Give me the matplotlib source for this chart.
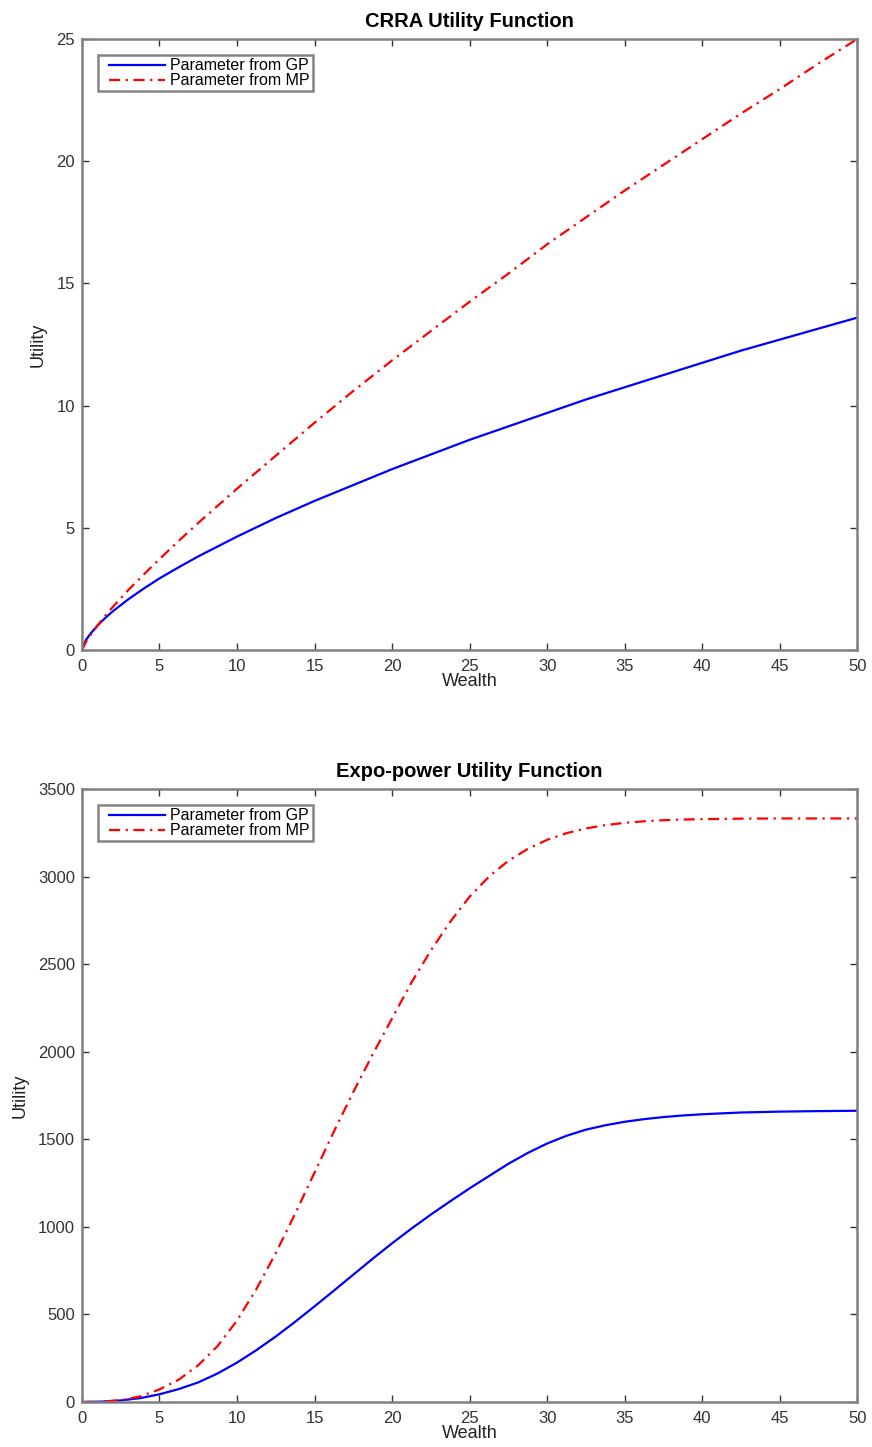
import numpy as np
import matplotlib.pyplot as plt
from matplotlib.lines import Line2D
from matplotlib.legend_handler import HandlerLine2D

plt.rcParams['font.family'] = ['Liberation Sans', 'DejaVu Sans']

# CRRA utility
crra_wealth = [0, 0.25, 0.5, 1, 1.5, 2, 3, 4, 5, 6.25, 7.5, 10, 12.5, 15, 17.5,
               20, 22.5, 25, 27.5, 30, 32.5, 35, 37.5, 40, 42.5, 45, 47.5, 50]
crra_gp = [0, 0.40, 0.63, 1.0, 1.31, 1.59, 2.08, 2.52, 2.93, 3.39, 3.83, 4.64,
           5.4, 6.1, 6.75, 7.4, 8.0, 8.6, 9.15, 9.7, 10.25, 10.75, 11.25,
           11.75, 12.25, 12.7, 13.15, 13.6]
crra_mp = [0, 0.32, 0.57, 1.0, 1.4, 1.77, 2.46, 3.1, 3.72, 4.47, 5.2, 6.6,
           7.95, 9.3, 10.6, 11.85, 13.05, 14.25, 15.4, 16.6, 17.7, 18.8, 19.85,
           20.9, 21.95, 22.95, 24.0, 25.0]

# expo-power utility
expo_wealth = [0, 1.25, 2.5, 3.75, 5, 6.25, 7.5, 8.75, 10, 11.25, 12.5, 13.75,
               15, 16.25, 17.5, 18.75, 20, 21.25, 22.5, 23.75, 25, 26.25, 27.5,
               28.75, 30, 31.25, 32.5, 33.75, 35, 36.25, 37.5, 38.75, 40, 42.5,
               45, 47.5, 50]
expo_gp = [0, 2, 9, 22, 44, 74, 112, 163, 225, 296, 374, 458, 546, 636, 727,
           818, 906, 990, 1070, 1146, 1220, 1290, 1360, 1422, 1476, 1520, 1555,
           1580, 1600, 1615, 1627, 1636, 1643, 1653, 1658, 1661, 1663]
expo_mp = [0, 2, 10, 32, 72, 128, 210, 320, 465, 645, 850, 1075, 1310, 1545,
           1770, 1985, 2190, 2395, 2578, 2742, 2885, 3000, 3090, 3158, 3210,
           3248, 3275, 3294, 3307, 3316, 3322, 3326, 3328, 3331, 3332, 3332, 3332]

labels = ['Parameter from GP', 'Parameter from MP']

fig = plt.figure(figsize=(8.72, 14.47), dpi=100)
ax1 = fig.add_axes([0.094, 0.5508, 0.889, 0.4222])
ax2 = fig.add_axes([0.094, 0.0311, 0.889, 0.4236])

dashdot = (0, (5, 2.5, 1, 2.5))


def style(ax, title, ylim, yticks):
    ax.set_xlim(0, 50)
    ax.set_ylim(*ylim)
    ax.set_xticks(range(0, 51, 5))
    ax.set_yticks(yticks)
    ax.tick_params(direction='in', top=True, right=True, length=5, width=1,
                   color='#333333', labelsize=12, labelcolor='#333333')
    ax.tick_params(axis='x', pad=6.5)
    ax.tick_params(axis='y', pad=5)
    for s in ax.spines.values():
        s.set_color('#808080')
        s.set_linewidth(1.8)
    ax.set_title(title, fontsize=14.5, fontweight='bold', pad=9)
    ax.set_xlabel('Wealth', fontsize=13, color='#222222', labelpad=-1)
    ax.set_ylabel('Utility', fontsize=13, color='#222222', labelpad=7)
    leg = ax.legend(labels, loc='upper left', fontsize=11.5, frameon=True,
                    fancybox=False, borderpad=0.2, labelspacing=0.0,
                    handlelength=4.0, handletextpad=0.3, borderaxespad=1.0,
                    handler_map={Line2D: HandlerLine2D(xpad=0.5)})
    leg.get_frame().set_edgecolor('#666666')
    leg.get_frame().set_linewidth(1.8)


ax1.plot(crra_wealth, crra_gp, color='#0000ff', lw=1.6)
ax1.plot(crra_wealth, crra_mp, color='#ff0000', lw=1.6, linestyle=dashdot)
style(ax1, 'CRRA Utility Function', (0, 25), range(0, 26, 5))

ax2.plot(expo_wealth, expo_gp, color='#0000ff', lw=1.6)
ax2.plot(expo_wealth, expo_mp, color='#ff0000', lw=1.6, linestyle=dashdot)
style(ax2, 'Expo-power Utility Function', (0, 3500), range(0, 3501, 500))

fig.savefig('out.png', dpi=100)
